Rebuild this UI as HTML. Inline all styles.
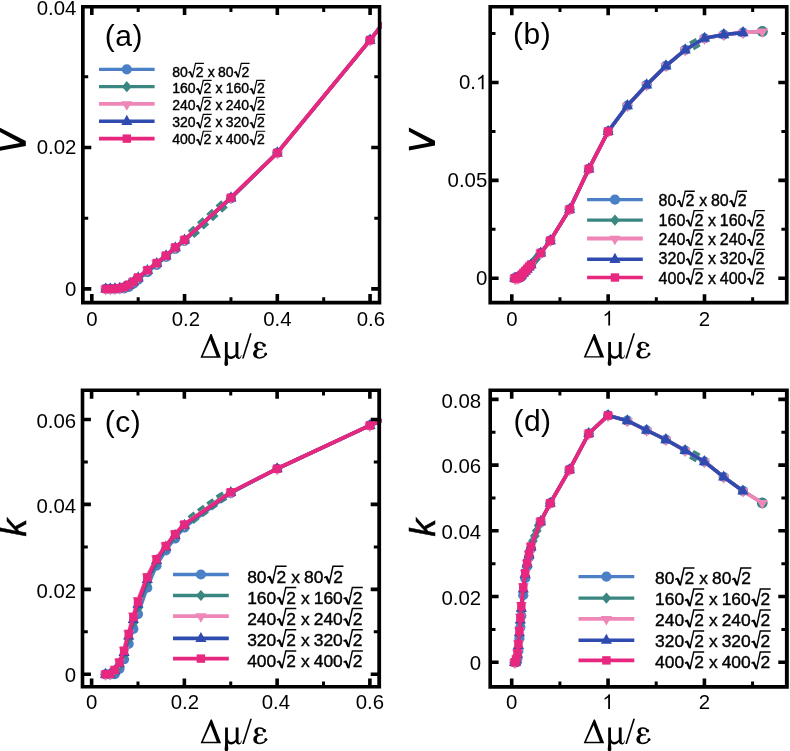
<!DOCTYPE html>
<html>
<head>
<meta charset="utf-8">
<title>Figure</title>
<style>
html, body { margin: 0; padding: 0; background: #fff; }
body { width: 790px; height: 751px; overflow: hidden; }
svg { display: block; will-change: transform; }
text { font-family: "Liberation Sans", sans-serif; fill: #000; }
.tk { font-size: 20.4px; }
.lg { font-family: "Liberation Sans", sans-serif; stroke: #000; stroke-width: 0.4px; }
.pl { font-size: 30px; letter-spacing: 0.5px; }
.ax { font-family: "Liberation Serif", serif; font-size: 35px; }
.yl { font-size: 35.4px; font-style: italic; stroke: #000; stroke-width: 0.5px; }
</style>
</head>
<body>
<svg width="790" height="751" viewBox="0 0 790 751">
<defs>
<clipPath id="clipa"><rect x="80.40" y="4.40" width="301.50" height="300.80"/></clipPath>
<clipPath id="clipb"><rect x="487.80" y="4.50" width="301.40" height="300.70"/></clipPath>
<clipPath id="clipc"><rect x="80.10" y="388.00" width="301.60" height="301.10"/></clipPath>
<clipPath id="clipd"><rect x="487.80" y="388.00" width="301.60" height="301.30"/></clipPath>
<g id="dme" fill="#000" stroke="none">
<path fill-rule="evenodd" d="M0 0L10.05 -23.6H11.25L20.5 0ZM2.35 -1.4H16.2L9.85 -17.9Z"/>
<path d="M24.5 -15.6H27.3V0.5C27.3 2.5 27.7 4.2 27.7 5.9C27.7 7.4 26.9 8.3 25.85 8.3C24.8 8.3 24.0 7.4 24.0 6C24.0 4.4 24.5 2.6 24.5 0.5Z"/>
<path d="M35.1 -15.6H37.95V-2.2C37.95 -0.6 38.5 -0.1 39.2 -0.1C39.9 -0.1 40.4 -1.0 40.6 -2.6L41.2 -2.4C40.8 0.0 39.9 1.2 38.4 1.2C36.9 1.2 35.6 0.4 35.2 -1.4C34.1 0.3 32.4 1.25 30.6 1.25C28.6 1.25 27.0 0.2 26.6 -2L27.3 -5C27.5 -2.5 28.9 -1.3 30.6 -1.3C32.3 -1.3 34.2 -2.2 35.1 -3.6Z"/>
<path d="M41.6 0.9L49.6 -24.4H51.3L43.3 0.9Z"/>
<path d="M59.3 -15.95C55.6 -15.95 53.8 -14.0 53.8 -11.9C53.8 -9.8 55.3 -8.2 58.6 -7.8L58.9 -8.9C57.6 -9.3 57.1 -10.5 57.1 -11.9C57.1 -13.3 57.8 -14.5 59.3 -14.6Z"/>
<path d="M59.0 -8.95C54.6 -8.6 52.7 -6.3 52.7 -3.7C52.7 -0.9 55.2 0.95 59.2 0.95L59.2 -0.5C57.2 -0.6 56.3 -2.0 56.3 -3.8C56.3 -5.7 57.2 -7.2 59.3 -7.6Z"/>
<g fill="none" stroke="#000">
<path stroke-width="1.4" d="M59.0 -15.25C61.0 -15.25 63.0 -14.6 63.6 -12.6"/>
<path stroke-width="1.35" d="M58.6 -8.3H62.4"/>
<path stroke-width="1.5" d="M59.0 0.2C62.3 0.2 64.6 -1.2 65.5 -3.6"/>
</g>
<circle cx="63.7" cy="-12.4" r="1.75"/><circle cx="65.3" cy="-3.6" r="1.5"/>
</g>
</defs>
<rect width="790" height="751" fill="#fff"/>
<g clip-path="url(#clipa)">
<path d="M105.71 288.90L110.35 288.90L114.99 288.90L119.63 288.76L124.27 288.33L128.90 286.78L133.54 283.60L138.18 279.57L147.46 272.21L156.73 264.79L166.01 256.94L175.28 248.81L184.56 240.82L230.94 198.40L277.32 152.80L370.08 40.04L462.84 -78.74" fill="none" stroke="#4b80c6" stroke-width="3.3" stroke-linejoin="round"/>
<circle cx="105.71" cy="288.90" r="5.1" fill="#4b80c6"/>
<circle cx="110.35" cy="288.90" r="5.1" fill="#4b80c6"/>
<circle cx="114.99" cy="288.90" r="5.1" fill="#4b80c6"/>
<circle cx="119.63" cy="288.76" r="5.1" fill="#4b80c6"/>
<circle cx="124.27" cy="288.33" r="5.1" fill="#4b80c6"/>
<circle cx="128.90" cy="286.78" r="5.1" fill="#4b80c6"/>
<circle cx="133.54" cy="283.60" r="5.1" fill="#4b80c6"/>
<circle cx="138.18" cy="279.57" r="5.1" fill="#4b80c6"/>
<circle cx="147.46" cy="272.21" r="5.1" fill="#4b80c6"/>
<circle cx="156.73" cy="264.79" r="5.1" fill="#4b80c6"/>
<circle cx="166.01" cy="256.94" r="5.1" fill="#4b80c6"/>
<circle cx="175.28" cy="248.81" r="5.1" fill="#4b80c6"/>
<circle cx="184.56" cy="240.82" r="5.1" fill="#4b80c6"/>
<circle cx="230.94" cy="198.40" r="5.1" fill="#4b80c6"/>
<circle cx="277.32" cy="152.80" r="5.1" fill="#4b80c6"/>
<circle cx="370.08" cy="40.04" r="5.1" fill="#4b80c6"/>
<circle cx="462.84" cy="-78.74" r="5.1" fill="#4b80c6"/>
<path d="M105.71 288.90L110.35 288.90L114.99 288.79L119.63 288.41L124.27 287.63L128.90 285.72L133.54 282.54L138.18 278.51L147.46 271.15L156.73 263.91L166.01 256.24L175.28 248.11L184.56 240.29L193.84 231.85L203.11 223.40L212.39 214.95L221.66 206.50L230.94 198.05L277.32 152.80L370.08 40.04L462.84 -78.74" fill="none" stroke="#3a8681" stroke-width="3.3" stroke-linejoin="round"/>
<path d="M105.71 283.30L110.61 288.90L105.71 294.50L100.81 288.90Z" fill="#3a8681"/>
<path d="M110.35 283.30L115.25 288.90L110.35 294.50L105.45 288.90Z" fill="#3a8681"/>
<path d="M114.99 283.19L119.89 288.79L114.99 294.39L110.09 288.79Z" fill="#3a8681"/>
<path d="M119.63 282.81L124.53 288.41L119.63 294.01L114.73 288.41Z" fill="#3a8681"/>
<path d="M124.27 282.03L129.17 287.63L124.27 293.23L119.37 287.63Z" fill="#3a8681"/>
<path d="M128.90 280.12L133.80 285.72L128.90 291.32L124.00 285.72Z" fill="#3a8681"/>
<path d="M133.54 276.94L138.44 282.54L133.54 288.14L128.64 282.54Z" fill="#3a8681"/>
<path d="M138.18 272.91L143.08 278.51L138.18 284.11L133.28 278.51Z" fill="#3a8681"/>
<path d="M147.46 265.55L152.36 271.15L147.46 276.75L142.56 271.15Z" fill="#3a8681"/>
<path d="M156.73 258.31L161.63 263.91L156.73 269.51L151.83 263.91Z" fill="#3a8681"/>
<path d="M166.01 250.64L170.91 256.24L166.01 261.84L161.11 256.24Z" fill="#3a8681"/>
<path d="M175.28 242.51L180.18 248.11L175.28 253.71L170.38 248.11Z" fill="#3a8681"/>
<path d="M184.56 234.69L189.46 240.29L184.56 245.89L179.66 240.29Z" fill="#3a8681"/>
<rect x="-3.8" y="-4.9" width="7.6" height="9.8" fill="#3a8681" transform="translate(193.84 231.85) rotate(-42.3)"/>
<rect x="-3.8" y="-4.9" width="7.6" height="9.8" fill="#3a8681" transform="translate(203.11 223.40) rotate(-42.3)"/>
<rect x="-3.8" y="-4.9" width="7.6" height="9.8" fill="#3a8681" transform="translate(212.39 214.95) rotate(-42.3)"/>
<rect x="-3.8" y="-4.9" width="7.6" height="9.8" fill="#3a8681" transform="translate(221.66 206.50) rotate(-42.3)"/>
<path d="M230.94 192.45L235.84 198.05L230.94 203.65L226.04 198.05Z" fill="#3a8681"/>
<path d="M277.32 147.20L282.22 152.80L277.32 158.40L272.42 152.80Z" fill="#3a8681"/>
<path d="M370.08 34.44L374.98 40.04L370.08 45.64L365.18 40.04Z" fill="#3a8681"/>
<path d="M462.84 -84.34L467.74 -78.74L462.84 -73.14L457.94 -78.74Z" fill="#3a8681"/>
<path d="M105.71 288.90L110.35 288.90L114.99 288.66L119.63 287.95L124.27 286.71L128.90 284.34L133.54 281.16L138.18 277.13L147.46 269.78L156.73 262.76L166.01 255.32L175.28 247.19L184.56 239.60L230.94 197.59L277.32 152.80L370.08 40.04L462.84 -78.74" fill="none" stroke="#ee86b7" stroke-width="3.8" stroke-linejoin="round"/>
<path d="M100.11 286.10L111.31 286.10L105.71 295.60Z" fill="#ee86b7"/>
<path d="M104.75 286.10L115.95 286.10L110.35 295.60Z" fill="#ee86b7"/>
<path d="M109.39 285.86L120.59 285.86L114.99 295.36Z" fill="#ee86b7"/>
<path d="M114.03 285.15L125.23 285.15L119.63 294.65Z" fill="#ee86b7"/>
<path d="M118.67 283.91L129.87 283.91L124.27 293.41Z" fill="#ee86b7"/>
<path d="M123.30 281.54L134.50 281.54L128.90 291.04Z" fill="#ee86b7"/>
<path d="M127.94 278.36L139.14 278.36L133.54 287.86Z" fill="#ee86b7"/>
<path d="M132.58 274.33L143.78 274.33L138.18 283.83Z" fill="#ee86b7"/>
<path d="M141.86 266.98L153.06 266.98L147.46 276.48Z" fill="#ee86b7"/>
<path d="M151.13 259.96L162.33 259.96L156.73 269.46Z" fill="#ee86b7"/>
<path d="M160.41 252.52L171.61 252.52L166.01 262.02Z" fill="#ee86b7"/>
<path d="M169.68 244.39L180.88 244.39L175.28 253.89Z" fill="#ee86b7"/>
<path d="M178.96 236.80L190.16 236.80L184.56 246.30Z" fill="#ee86b7"/>
<path d="M225.34 194.79L236.54 194.79L230.94 204.29Z" fill="#ee86b7"/>
<path d="M271.72 150.00L282.92 150.00L277.32 159.50Z" fill="#ee86b7"/>
<path d="M364.48 37.24L375.68 37.24L370.08 46.74Z" fill="#ee86b7"/>
<path d="M457.24 -81.54L468.44 -81.54L462.84 -72.04Z" fill="#ee86b7"/>
<path d="M105.71 288.90L110.35 288.90L114.99 288.73L119.63 288.19L124.27 287.20L128.90 285.08L133.54 281.90L138.18 277.87L147.46 270.52L156.73 263.38L166.01 255.81L175.28 247.68L184.56 239.98L230.94 197.84L277.32 152.80L370.08 40.04L462.84 -78.74" fill="none" stroke="#2f4bb0" stroke-width="3.6" stroke-linejoin="round"/>
<path d="M100.11 292.50L111.31 292.50L105.71 282.40Z" fill="#2f4bb0"/>
<path d="M104.75 292.50L115.95 292.50L110.35 282.40Z" fill="#2f4bb0"/>
<path d="M109.39 292.33L120.59 292.33L114.99 282.23Z" fill="#2f4bb0"/>
<path d="M114.03 291.79L125.23 291.79L119.63 281.69Z" fill="#2f4bb0"/>
<path d="M118.67 290.80L129.87 290.80L124.27 280.70Z" fill="#2f4bb0"/>
<path d="M123.30 288.68L134.50 288.68L128.90 278.58Z" fill="#2f4bb0"/>
<path d="M127.94 285.50L139.14 285.50L133.54 275.40Z" fill="#2f4bb0"/>
<path d="M132.58 281.47L143.78 281.47L138.18 271.37Z" fill="#2f4bb0"/>
<path d="M141.86 274.12L153.06 274.12L147.46 264.02Z" fill="#2f4bb0"/>
<path d="M151.13 266.98L162.33 266.98L156.73 256.88Z" fill="#2f4bb0"/>
<path d="M160.41 259.41L171.61 259.41L166.01 249.31Z" fill="#2f4bb0"/>
<path d="M169.68 251.28L180.88 251.28L175.28 241.18Z" fill="#2f4bb0"/>
<path d="M178.96 243.58L190.16 243.58L184.56 233.48Z" fill="#2f4bb0"/>
<path d="M225.34 201.44L236.54 201.44L230.94 191.34Z" fill="#2f4bb0"/>
<path d="M271.72 156.40L282.92 156.40L277.32 146.30Z" fill="#2f4bb0"/>
<path d="M364.48 43.64L375.68 43.64L370.08 33.54Z" fill="#2f4bb0"/>
<path d="M457.24 -75.14L468.44 -75.14L462.84 -85.24Z" fill="#2f4bb0"/>
<path d="M105.71 288.90L110.35 288.90L114.99 288.69L119.63 288.05L124.27 286.92L128.90 284.66L133.54 281.48L138.18 277.45L147.46 270.09L156.73 263.02L166.01 255.53L175.28 247.40L184.56 239.76L230.94 197.70L277.32 152.80L370.08 40.04L462.84 -78.74" fill="none" stroke="#e8277f" stroke-width="3.7" stroke-linejoin="round"/>
<rect x="101.51" y="284.70" width="8.4" height="8.4" fill="#e8277f"/>
<rect x="106.15" y="284.70" width="8.4" height="8.4" fill="#e8277f"/>
<rect x="110.79" y="284.49" width="8.4" height="8.4" fill="#e8277f"/>
<rect x="115.43" y="283.85" width="8.4" height="8.4" fill="#e8277f"/>
<rect x="120.07" y="282.72" width="8.4" height="8.4" fill="#e8277f"/>
<rect x="124.70" y="280.46" width="8.4" height="8.4" fill="#e8277f"/>
<rect x="129.34" y="277.28" width="8.4" height="8.4" fill="#e8277f"/>
<rect x="133.98" y="273.25" width="8.4" height="8.4" fill="#e8277f"/>
<rect x="143.26" y="265.89" width="8.4" height="8.4" fill="#e8277f"/>
<rect x="152.53" y="258.82" width="8.4" height="8.4" fill="#e8277f"/>
<rect x="161.81" y="251.33" width="8.4" height="8.4" fill="#e8277f"/>
<rect x="171.08" y="243.20" width="8.4" height="8.4" fill="#e8277f"/>
<rect x="180.36" y="235.56" width="8.4" height="8.4" fill="#e8277f"/>
<rect x="226.74" y="193.50" width="8.4" height="8.4" fill="#e8277f"/>
<rect x="273.12" y="148.60" width="8.4" height="8.4" fill="#e8277f"/>
<rect x="365.88" y="35.84" width="8.4" height="8.4" fill="#e8277f"/>
<rect x="458.64" y="-82.94" width="8.4" height="8.4" fill="#e8277f"/>
</g>
<path fill-rule="evenodd" fill="#000" d="M81.0 5.0H381.3V304.6H81.0ZM84.7 8.4V300.7H377.8V8.4Z"/>
<path d="M91.80 301.70V294.10M91.80 7.40V15.00M184.56 301.70V294.10M184.56 7.40V15.00M277.32 301.70V294.10M277.32 7.40V15.00M370.08 301.70V294.10M370.08 7.40V15.00M83.70 288.90H91.30M378.80 288.90H371.20M83.70 147.50H91.30M378.80 147.50H371.20" stroke="#000" stroke-width="3.6" fill="none"/>
<path d="M138.18 301.70V297.20M138.18 7.40V11.90M230.94 301.70V297.20M230.94 7.40V11.90M323.70 301.70V297.20M323.70 7.40V11.90M83.70 218.20H88.20M378.80 218.20H374.30M83.70 76.80H88.20M378.80 76.80H374.30" stroke="#000" stroke-width="3.0" fill="none"/>
<text x="91.80" y="325.5" text-anchor="middle" class="tk">0</text>
<text x="185.96" y="325.5" text-anchor="middle" class="tk">0.2</text>
<text x="277.32" y="325.5" text-anchor="middle" class="tk">0.4</text>
<text x="370.88" y="325.5" text-anchor="middle" class="tk">0.6</text>
<text x="76.4" y="296.20" text-anchor="end" class="tk">0</text>
<text x="76.4" y="154.40" text-anchor="end" class="tk">0.02</text>
<text x="76.4" y="14.50" text-anchor="end" class="tk">0.04</text>
<g clip-path="url(#clipb)">
<path d="M514.69 278.20L515.65 278.20L516.62 278.20L517.58 278.16L518.54 278.04L519.51 277.61L520.47 276.73L521.44 275.62L523.36 273.58L525.29 271.53L527.22 269.35L529.14 267.10L531.07 264.89L540.71 253.15L550.34 240.53L569.61 209.31L588.88 168.80L608.15 131.42L627.42 105.59L646.69 84.85L665.96 65.87L685.23 49.82L704.50 38.27L723.77 34.55L743.04 32.60L762.31 31.42" fill="none" stroke="#4b80c6" stroke-width="3.3" stroke-linejoin="round"/>
<circle cx="514.69" cy="278.20" r="5.1" fill="#4b80c6"/>
<circle cx="515.65" cy="278.20" r="5.1" fill="#4b80c6"/>
<circle cx="516.62" cy="278.20" r="5.1" fill="#4b80c6"/>
<circle cx="517.58" cy="278.16" r="5.1" fill="#4b80c6"/>
<circle cx="518.54" cy="278.04" r="5.1" fill="#4b80c6"/>
<circle cx="519.51" cy="277.61" r="5.1" fill="#4b80c6"/>
<circle cx="520.47" cy="276.73" r="5.1" fill="#4b80c6"/>
<circle cx="521.44" cy="275.62" r="5.1" fill="#4b80c6"/>
<circle cx="523.36" cy="273.58" r="5.1" fill="#4b80c6"/>
<circle cx="525.29" cy="271.53" r="5.1" fill="#4b80c6"/>
<circle cx="527.22" cy="269.35" r="5.1" fill="#4b80c6"/>
<circle cx="529.14" cy="267.10" r="5.1" fill="#4b80c6"/>
<circle cx="531.07" cy="264.89" r="5.1" fill="#4b80c6"/>
<circle cx="540.71" cy="253.15" r="5.1" fill="#4b80c6"/>
<circle cx="550.34" cy="240.53" r="5.1" fill="#4b80c6"/>
<circle cx="569.61" cy="209.31" r="5.1" fill="#4b80c6"/>
<circle cx="588.88" cy="168.80" r="5.1" fill="#4b80c6"/>
<circle cx="608.15" cy="131.42" r="5.1" fill="#4b80c6"/>
<circle cx="627.42" cy="105.59" r="5.1" fill="#4b80c6"/>
<circle cx="646.69" cy="84.85" r="5.1" fill="#4b80c6"/>
<circle cx="665.96" cy="65.87" r="5.1" fill="#4b80c6"/>
<circle cx="685.23" cy="49.82" r="5.1" fill="#4b80c6"/>
<circle cx="704.50" cy="38.27" r="5.1" fill="#4b80c6"/>
<circle cx="723.77" cy="34.55" r="5.1" fill="#4b80c6"/>
<circle cx="743.04" cy="32.60" r="5.1" fill="#4b80c6"/>
<circle cx="762.31" cy="31.42" r="5.1" fill="#4b80c6"/>
<path d="M514.69 278.20L515.65 278.20L516.62 278.17L517.58 278.06L518.54 277.85L519.51 277.32L520.47 276.44L521.44 275.32L523.36 273.29L525.29 271.28L527.22 269.16L529.14 266.91L531.07 264.75L533.00 262.41L534.92 260.07L536.85 257.73L538.78 255.39L540.71 253.05L550.34 240.53L569.61 209.31L588.88 168.80L608.15 131.42L627.42 105.59L646.69 84.85L665.96 65.87L685.23 49.82L694.87 44.04L704.50 38.27L723.77 34.55L743.04 32.60L762.31 31.42" fill="none" stroke="#3a8681" stroke-width="3.3" stroke-linejoin="round"/>
<path d="M514.69 272.60L519.59 278.20L514.69 283.80L509.79 278.20Z" fill="#3a8681"/>
<path d="M515.65 272.60L520.55 278.20L515.65 283.80L510.75 278.20Z" fill="#3a8681"/>
<path d="M516.62 272.57L521.52 278.17L516.62 283.77L511.72 278.17Z" fill="#3a8681"/>
<path d="M517.58 272.46L522.48 278.06L517.58 283.66L512.68 278.06Z" fill="#3a8681"/>
<path d="M518.54 272.25L523.44 277.85L518.54 283.45L513.64 277.85Z" fill="#3a8681"/>
<path d="M519.51 271.72L524.41 277.32L519.51 282.92L514.61 277.32Z" fill="#3a8681"/>
<path d="M520.47 270.84L525.37 276.44L520.47 282.04L515.57 276.44Z" fill="#3a8681"/>
<path d="M521.44 269.72L526.34 275.32L521.44 280.92L516.54 275.32Z" fill="#3a8681"/>
<path d="M523.36 267.69L528.26 273.29L523.36 278.89L518.46 273.29Z" fill="#3a8681"/>
<path d="M525.29 265.68L530.19 271.28L525.29 276.88L520.39 271.28Z" fill="#3a8681"/>
<path d="M527.22 263.56L532.12 269.16L527.22 274.76L522.32 269.16Z" fill="#3a8681"/>
<path d="M529.14 261.31L534.04 266.91L529.14 272.51L524.24 266.91Z" fill="#3a8681"/>
<path d="M531.07 259.15L535.97 264.75L531.07 270.35L526.17 264.75Z" fill="#3a8681"/>
<path d="M533.00 256.81L537.90 262.41L533.00 268.01L528.10 262.41Z" fill="#3a8681"/>
<path d="M534.92 254.47L539.82 260.07L534.92 265.67L530.02 260.07Z" fill="#3a8681"/>
<path d="M536.85 252.13L541.75 257.73L536.85 263.33L531.95 257.73Z" fill="#3a8681"/>
<path d="M538.78 249.79L543.68 255.39L538.78 260.99L533.88 255.39Z" fill="#3a8681"/>
<path d="M540.71 247.45L545.61 253.05L540.71 258.65L535.81 253.05Z" fill="#3a8681"/>
<path d="M550.34 234.93L555.24 240.53L550.34 246.13L545.44 240.53Z" fill="#3a8681"/>
<path d="M569.61 203.71L574.51 209.31L569.61 214.91L564.71 209.31Z" fill="#3a8681"/>
<path d="M588.88 163.20L593.78 168.80L588.88 174.40L583.98 168.80Z" fill="#3a8681"/>
<path d="M608.15 125.82L613.05 131.42L608.15 137.02L603.25 131.42Z" fill="#3a8681"/>
<path d="M627.42 99.99L632.32 105.59L627.42 111.19L622.52 105.59Z" fill="#3a8681"/>
<path d="M646.69 79.25L651.59 84.85L646.69 90.45L641.79 84.85Z" fill="#3a8681"/>
<path d="M665.96 60.27L670.86 65.87L665.96 71.47L661.06 65.87Z" fill="#3a8681"/>
<path d="M685.23 44.22L690.13 49.82L685.23 55.42L680.33 49.82Z" fill="#3a8681"/>
<rect x="-3.8" y="-4.9" width="7.6" height="9.8" fill="#3a8681" transform="translate(694.87 44.04) rotate(-30.9)"/>
<path d="M704.50 32.67L709.40 38.27L704.50 43.87L699.60 38.27Z" fill="#3a8681"/>
<path d="M723.77 28.95L728.67 34.55L723.77 40.15L718.87 34.55Z" fill="#3a8681"/>
<path d="M743.04 27.00L747.94 32.60L743.04 38.20L738.14 32.60Z" fill="#3a8681"/>
<circle cx="762.31" cy="31.42" r="5.4" fill="#3a8681"/>
<path d="M514.69 278.20L515.65 278.20L516.62 278.13L517.58 277.94L518.54 277.59L519.51 276.94L520.47 276.06L521.44 274.94L523.36 272.91L525.29 270.96L527.22 268.90L529.14 266.65L531.07 264.55L540.71 252.93L550.34 240.53L569.61 209.31L588.88 168.80L608.15 131.42L627.42 105.59L646.69 84.85L665.96 65.87L685.23 49.82L704.50 38.27L723.77 34.55L743.04 32.60L762.31 31.42" fill="none" stroke="#ee86b7" stroke-width="3.8" stroke-linejoin="round"/>
<path d="M509.09 275.40L520.29 275.40L514.69 284.90Z" fill="#ee86b7"/>
<path d="M510.05 275.40L521.25 275.40L515.65 284.90Z" fill="#ee86b7"/>
<path d="M511.02 275.33L522.22 275.33L516.62 284.83Z" fill="#ee86b7"/>
<path d="M511.98 275.14L523.18 275.14L517.58 284.64Z" fill="#ee86b7"/>
<path d="M512.94 274.79L524.14 274.79L518.54 284.29Z" fill="#ee86b7"/>
<path d="M513.91 274.14L525.11 274.14L519.51 283.64Z" fill="#ee86b7"/>
<path d="M514.87 273.26L526.07 273.26L520.47 282.76Z" fill="#ee86b7"/>
<path d="M515.84 272.14L527.04 272.14L521.44 281.64Z" fill="#ee86b7"/>
<path d="M517.76 270.11L528.96 270.11L523.36 279.61Z" fill="#ee86b7"/>
<path d="M519.69 268.16L530.89 268.16L525.29 277.66Z" fill="#ee86b7"/>
<path d="M521.62 266.10L532.82 266.10L527.22 275.60Z" fill="#ee86b7"/>
<path d="M523.54 263.85L534.74 263.85L529.14 273.35Z" fill="#ee86b7"/>
<path d="M525.47 261.75L536.67 261.75L531.07 271.25Z" fill="#ee86b7"/>
<path d="M535.11 250.13L546.31 250.13L540.71 259.63Z" fill="#ee86b7"/>
<path d="M544.74 237.73L555.94 237.73L550.34 247.23Z" fill="#ee86b7"/>
<path d="M564.01 206.51L575.21 206.51L569.61 216.01Z" fill="#ee86b7"/>
<path d="M583.28 166.00L594.48 166.00L588.88 175.50Z" fill="#ee86b7"/>
<path d="M602.55 128.62L613.75 128.62L608.15 138.12Z" fill="#ee86b7"/>
<path d="M621.82 102.79L633.02 102.79L627.42 112.29Z" fill="#ee86b7"/>
<path d="M641.09 82.05L652.29 82.05L646.69 91.55Z" fill="#ee86b7"/>
<path d="M660.36 63.07L671.56 63.07L665.96 72.57Z" fill="#ee86b7"/>
<path d="M679.63 47.02L690.83 47.02L685.23 56.52Z" fill="#ee86b7"/>
<path d="M698.90 35.47L710.10 35.47L704.50 44.97Z" fill="#ee86b7"/>
<path d="M718.17 31.75L729.37 31.75L723.77 41.25Z" fill="#ee86b7"/>
<path d="M737.44 29.80L748.64 29.80L743.04 39.30Z" fill="#ee86b7"/>
<path d="M756.71 28.62L767.91 28.62L762.31 38.12Z" fill="#ee86b7"/>
<path d="M514.69 278.20L515.65 278.20L516.62 278.15L517.58 278.00L518.54 277.73L519.51 277.14L520.47 276.26L521.44 275.15L523.36 273.11L525.29 271.14L527.22 269.04L529.14 266.79L531.07 264.66L540.71 252.99L550.34 240.53L569.61 209.31L588.88 168.80L608.15 131.42L627.42 105.59L646.69 84.85L665.96 65.87L685.23 49.82L704.50 38.27L723.77 34.55L743.04 32.60" fill="none" stroke="#2f4bb0" stroke-width="3.6" stroke-linejoin="round"/>
<path d="M509.09 281.80L520.29 281.80L514.69 271.70Z" fill="#2f4bb0"/>
<path d="M510.05 281.80L521.25 281.80L515.65 271.70Z" fill="#2f4bb0"/>
<path d="M511.02 281.75L522.22 281.75L516.62 271.65Z" fill="#2f4bb0"/>
<path d="M511.98 281.60L523.18 281.60L517.58 271.50Z" fill="#2f4bb0"/>
<path d="M512.94 281.33L524.14 281.33L518.54 271.23Z" fill="#2f4bb0"/>
<path d="M513.91 280.74L525.11 280.74L519.51 270.64Z" fill="#2f4bb0"/>
<path d="M514.87 279.86L526.07 279.86L520.47 269.76Z" fill="#2f4bb0"/>
<path d="M515.84 278.75L527.04 278.75L521.44 268.65Z" fill="#2f4bb0"/>
<path d="M517.76 276.71L528.96 276.71L523.36 266.61Z" fill="#2f4bb0"/>
<path d="M519.69 274.74L530.89 274.74L525.29 264.64Z" fill="#2f4bb0"/>
<path d="M521.62 272.64L532.82 272.64L527.22 262.54Z" fill="#2f4bb0"/>
<path d="M523.54 270.39L534.74 270.39L529.14 260.29Z" fill="#2f4bb0"/>
<path d="M525.47 268.26L536.67 268.26L531.07 258.16Z" fill="#2f4bb0"/>
<path d="M535.11 256.59L546.31 256.59L540.71 246.49Z" fill="#2f4bb0"/>
<path d="M544.74 244.13L555.94 244.13L550.34 234.03Z" fill="#2f4bb0"/>
<path d="M564.01 212.91L575.21 212.91L569.61 202.81Z" fill="#2f4bb0"/>
<path d="M583.28 172.40L594.48 172.40L588.88 162.30Z" fill="#2f4bb0"/>
<path d="M602.55 135.02L613.75 135.02L608.15 124.92Z" fill="#2f4bb0"/>
<path d="M621.82 109.19L633.02 109.19L627.42 99.09Z" fill="#2f4bb0"/>
<path d="M641.09 88.45L652.29 88.45L646.69 78.35Z" fill="#2f4bb0"/>
<path d="M660.36 69.47L671.56 69.47L665.96 59.37Z" fill="#2f4bb0"/>
<path d="M679.63 53.42L690.83 53.42L685.23 43.32Z" fill="#2f4bb0"/>
<path d="M698.90 41.87L710.10 41.87L704.50 31.77Z" fill="#2f4bb0"/>
<path d="M718.17 38.15L729.37 38.15L723.77 28.05Z" fill="#2f4bb0"/>
<path d="M737.44 36.20L748.64 36.20L743.04 26.10Z" fill="#2f4bb0"/>
<path d="M514.69 278.20L515.65 278.20L516.62 278.14L517.58 277.97L518.54 277.65L519.51 277.03L520.47 276.15L521.44 275.03L523.36 272.99L525.29 271.04L527.22 268.96L529.14 266.71L531.07 264.60L540.71 252.95L550.34 240.53L569.61 209.31L588.88 168.80L608.15 131.42" fill="none" stroke="#e8277f" stroke-width="3.7" stroke-linejoin="round"/>
<rect x="510.49" y="274.00" width="8.4" height="8.4" fill="#e8277f"/>
<rect x="511.45" y="274.00" width="8.4" height="8.4" fill="#e8277f"/>
<rect x="512.42" y="273.94" width="8.4" height="8.4" fill="#e8277f"/>
<rect x="513.38" y="273.77" width="8.4" height="8.4" fill="#e8277f"/>
<rect x="514.34" y="273.45" width="8.4" height="8.4" fill="#e8277f"/>
<rect x="515.31" y="272.83" width="8.4" height="8.4" fill="#e8277f"/>
<rect x="516.27" y="271.95" width="8.4" height="8.4" fill="#e8277f"/>
<rect x="517.24" y="270.83" width="8.4" height="8.4" fill="#e8277f"/>
<rect x="519.16" y="268.79" width="8.4" height="8.4" fill="#e8277f"/>
<rect x="521.09" y="266.84" width="8.4" height="8.4" fill="#e8277f"/>
<rect x="523.02" y="264.76" width="8.4" height="8.4" fill="#e8277f"/>
<rect x="524.94" y="262.51" width="8.4" height="8.4" fill="#e8277f"/>
<rect x="526.87" y="260.40" width="8.4" height="8.4" fill="#e8277f"/>
<rect x="536.50" y="248.75" width="8.4" height="8.4" fill="#e8277f"/>
<rect x="546.14" y="236.33" width="8.4" height="8.4" fill="#e8277f"/>
<rect x="565.41" y="205.11" width="8.4" height="8.4" fill="#e8277f"/>
<rect x="584.68" y="164.60" width="8.4" height="8.4" fill="#e8277f"/>
<rect x="603.95" y="127.22" width="8.4" height="8.4" fill="#e8277f"/>
</g>
<path fill-rule="evenodd" fill="#000" d="M488.4 5.1H788.6V304.6H488.4ZM492.0 8.6V300.8H784.9V8.6Z"/>
<path d="M511.80 301.80V294.20M511.80 7.60V15.20M608.15 301.80V294.20M608.15 7.60V15.20M704.50 301.80V294.20M704.50 7.60V15.20M491.00 278.20H498.60M785.90 278.20H778.30M491.00 180.35H498.60M785.90 180.35H778.30M491.00 82.50H498.60M785.90 82.50H778.30" stroke="#000" stroke-width="3.6" fill="none"/>
<path d="M559.98 301.80V297.30M559.98 7.60V12.10M656.33 301.80V297.30M656.33 7.60V12.10M752.67 301.80V297.30M752.67 7.60V12.10M491.00 229.27H495.50M785.90 229.27H781.40M491.00 131.42H495.50M785.90 131.42H781.40M491.00 33.57H495.50M785.90 33.57H781.40" stroke="#000" stroke-width="3.0" fill="none"/>
<text x="511.80" y="325.5" text-anchor="middle" class="tk">0</text>
<path transform="translate(602.48 325.50) scale(0.009961 -0.009961)" d="M763 0H583V1147Q518 1085 412.5 1023Q307 961 223 930V1104Q374 1175 487 1276Q600 1377 647 1472H763Z" fill="#000"/>
<text x="704.50" y="325.5" text-anchor="middle" class="tk">2</text>
<text x="487.3" y="285.00" text-anchor="end" class="tk">0</text>
<text x="487.3" y="187.15" text-anchor="end" class="tk">0.05</text>
<path transform="translate(475.96 89.30) scale(0.009961 -0.009961)" d="M763 0H583V1147Q518 1085 412.5 1023Q307 961 223 930V1104Q374 1175 487 1276Q600 1377 647 1472H763Z" fill="#000"/>
<text x="475.96" y="89.30" text-anchor="end" class="tk">0.</text>
<g clip-path="url(#clipc)">
<path d="M105.51 674.30L110.15 674.30L114.79 674.13L119.43 668.86L124.07 659.27L128.70 643.81L133.34 628.90L137.98 614.08L147.26 587.66L156.53 565.58L165.81 550.29L175.08 538.52L184.36 527.52L230.74 493.17L277.12 468.75L369.88 425.43L462.64 387.63" fill="none" stroke="#4b80c6" stroke-width="3.3" stroke-linejoin="round"/>
<circle cx="105.51" cy="674.30" r="5.1" fill="#4b80c6"/>
<circle cx="110.15" cy="674.30" r="5.1" fill="#4b80c6"/>
<circle cx="114.79" cy="674.13" r="5.1" fill="#4b80c6"/>
<circle cx="119.43" cy="668.86" r="5.1" fill="#4b80c6"/>
<circle cx="124.07" cy="659.27" r="5.1" fill="#4b80c6"/>
<circle cx="128.70" cy="643.81" r="5.1" fill="#4b80c6"/>
<circle cx="133.34" cy="628.90" r="5.1" fill="#4b80c6"/>
<circle cx="137.98" cy="614.08" r="5.1" fill="#4b80c6"/>
<circle cx="147.26" cy="587.66" r="5.1" fill="#4b80c6"/>
<circle cx="156.53" cy="565.58" r="5.1" fill="#4b80c6"/>
<circle cx="165.81" cy="550.29" r="5.1" fill="#4b80c6"/>
<circle cx="175.08" cy="538.52" r="5.1" fill="#4b80c6"/>
<circle cx="184.36" cy="527.52" r="5.1" fill="#4b80c6"/>
<circle cx="230.74" cy="493.17" r="5.1" fill="#4b80c6"/>
<circle cx="277.12" cy="468.75" r="5.1" fill="#4b80c6"/>
<circle cx="369.88" cy="425.43" r="5.1" fill="#4b80c6"/>
<circle cx="462.64" cy="387.63" r="5.1" fill="#4b80c6"/>
<path d="M105.51 674.30L110.15 674.09L114.79 672.01L119.43 665.68L124.07 655.02L128.70 638.92L133.34 622.95L137.98 607.92L147.26 582.56L156.53 562.39L165.81 548.16L175.08 536.40L184.36 526.04L193.64 517.68L202.91 511.02L212.19 504.36L221.46 497.70L230.74 492.74L277.12 468.75L369.88 425.43L462.64 387.63" fill="none" stroke="#3a8681" stroke-width="3.3" stroke-linejoin="round"/>
<path d="M105.51 668.70L110.41 674.30L105.51 679.90L100.61 674.30Z" fill="#3a8681"/>
<path d="M110.15 668.49L115.05 674.09L110.15 679.69L105.25 674.09Z" fill="#3a8681"/>
<path d="M114.79 666.41L119.69 672.01L114.79 677.61L109.89 672.01Z" fill="#3a8681"/>
<path d="M119.43 660.08L124.33 665.68L119.43 671.28L114.53 665.68Z" fill="#3a8681"/>
<path d="M124.07 649.42L128.97 655.02L124.07 660.62L119.17 655.02Z" fill="#3a8681"/>
<path d="M128.70 633.32L133.60 638.92L128.70 644.52L123.80 638.92Z" fill="#3a8681"/>
<path d="M133.34 617.35L138.24 622.95L133.34 628.55L128.44 622.95Z" fill="#3a8681"/>
<path d="M137.98 602.32L142.88 607.92L137.98 613.52L133.08 607.92Z" fill="#3a8681"/>
<path d="M147.26 576.96L152.16 582.56L147.26 588.16L142.36 582.56Z" fill="#3a8681"/>
<path d="M156.53 556.79L161.43 562.39L156.53 567.99L151.63 562.39Z" fill="#3a8681"/>
<path d="M165.81 542.56L170.71 548.16L165.81 553.76L160.91 548.16Z" fill="#3a8681"/>
<path d="M175.08 530.80L179.98 536.40L175.08 542.00L170.18 536.40Z" fill="#3a8681"/>
<path d="M184.36 520.44L189.26 526.04L184.36 531.64L179.46 526.04Z" fill="#3a8681"/>
<rect x="-3.8" y="-4.9" width="7.6" height="9.8" fill="#3a8681" transform="translate(193.64 517.68) rotate(-39.0)"/>
<rect x="-3.8" y="-4.9" width="7.6" height="9.8" fill="#3a8681" transform="translate(202.91 511.02) rotate(-35.7)"/>
<rect x="-3.8" y="-4.9" width="7.6" height="9.8" fill="#3a8681" transform="translate(212.19 504.36) rotate(-35.7)"/>
<rect x="-3.8" y="-4.9" width="7.6" height="9.8" fill="#3a8681" transform="translate(221.46 497.70) rotate(-32.1)"/>
<path d="M230.74 487.14L235.64 492.74L230.74 498.34L225.84 492.74Z" fill="#3a8681"/>
<path d="M277.12 463.15L282.02 468.75L277.12 474.35L272.22 468.75Z" fill="#3a8681"/>
<path d="M369.88 419.83L374.78 425.43L369.88 431.03L364.98 425.43Z" fill="#3a8681"/>
<path d="M462.64 382.03L467.54 387.63L462.64 393.23L457.74 387.63Z" fill="#3a8681"/>
<path d="M105.51 674.30L110.15 673.81L114.79 669.25L119.43 661.54L124.07 649.50L128.70 632.57L133.34 615.22L137.98 599.91L147.26 575.94L156.53 558.25L165.81 545.40L175.08 533.64L184.36 524.10L230.74 492.19L277.12 468.75L369.88 425.43L462.64 387.63" fill="none" stroke="#ee86b7" stroke-width="3.8" stroke-linejoin="round"/>
<path d="M99.91 671.50L111.11 671.50L105.51 681.00Z" fill="#ee86b7"/>
<path d="M104.55 671.01L115.75 671.01L110.15 680.51Z" fill="#ee86b7"/>
<path d="M109.19 666.45L120.39 666.45L114.79 675.95Z" fill="#ee86b7"/>
<path d="M113.83 658.74L125.03 658.74L119.43 668.24Z" fill="#ee86b7"/>
<path d="M118.47 646.70L129.67 646.70L124.07 656.20Z" fill="#ee86b7"/>
<path d="M123.10 629.77L134.30 629.77L128.70 639.27Z" fill="#ee86b7"/>
<path d="M127.74 612.42L138.94 612.42L133.34 621.92Z" fill="#ee86b7"/>
<path d="M132.38 597.11L143.58 597.11L137.98 606.61Z" fill="#ee86b7"/>
<path d="M141.66 573.14L152.86 573.14L147.26 582.64Z" fill="#ee86b7"/>
<path d="M150.93 555.45L162.13 555.45L156.53 564.95Z" fill="#ee86b7"/>
<path d="M160.21 542.60L171.41 542.60L165.81 552.10Z" fill="#ee86b7"/>
<path d="M169.48 530.84L180.68 530.84L175.08 540.34Z" fill="#ee86b7"/>
<path d="M178.76 521.30L189.96 521.30L184.36 530.80Z" fill="#ee86b7"/>
<path d="M225.14 489.39L236.34 489.39L230.74 498.89Z" fill="#ee86b7"/>
<path d="M271.52 465.95L282.72 465.95L277.12 475.45Z" fill="#ee86b7"/>
<path d="M364.28 422.63L375.48 422.63L369.88 432.13Z" fill="#ee86b7"/>
<path d="M457.04 384.83L468.24 384.83L462.64 394.33Z" fill="#ee86b7"/>
<path d="M105.51 674.30L110.15 673.96L114.79 670.73L119.43 663.77L124.07 652.47L128.70 635.99L133.34 619.39L137.98 604.22L147.26 579.51L156.53 560.48L165.81 546.89L175.08 535.13L184.36 525.15L230.74 492.49L277.12 468.75L369.88 425.43L462.64 387.63" fill="none" stroke="#2f4bb0" stroke-width="3.6" stroke-linejoin="round"/>
<path d="M99.91 677.90L111.11 677.90L105.51 667.80Z" fill="#2f4bb0"/>
<path d="M104.55 677.56L115.75 677.56L110.15 667.46Z" fill="#2f4bb0"/>
<path d="M109.19 674.33L120.39 674.33L114.79 664.23Z" fill="#2f4bb0"/>
<path d="M113.83 667.37L125.03 667.37L119.43 657.27Z" fill="#2f4bb0"/>
<path d="M118.47 656.07L129.67 656.07L124.07 645.97Z" fill="#2f4bb0"/>
<path d="M123.10 639.59L134.30 639.59L128.70 629.49Z" fill="#2f4bb0"/>
<path d="M127.74 622.99L138.94 622.99L133.34 612.89Z" fill="#2f4bb0"/>
<path d="M132.38 607.82L143.58 607.82L137.98 597.72Z" fill="#2f4bb0"/>
<path d="M141.66 583.11L152.86 583.11L147.26 573.01Z" fill="#2f4bb0"/>
<path d="M150.93 564.08L162.13 564.08L156.53 553.98Z" fill="#2f4bb0"/>
<path d="M160.21 550.49L171.41 550.49L165.81 540.39Z" fill="#2f4bb0"/>
<path d="M169.48 538.73L180.68 538.73L175.08 528.63Z" fill="#2f4bb0"/>
<path d="M178.76 528.75L189.96 528.75L184.36 518.65Z" fill="#2f4bb0"/>
<path d="M225.14 496.09L236.34 496.09L230.74 485.99Z" fill="#2f4bb0"/>
<path d="M271.52 472.35L282.72 472.35L277.12 462.25Z" fill="#2f4bb0"/>
<path d="M364.28 429.03L375.48 429.03L369.88 418.93Z" fill="#2f4bb0"/>
<path d="M457.04 391.23L468.24 391.23L462.64 381.13Z" fill="#2f4bb0"/>
<path d="M105.51 674.30L110.15 673.88L114.79 669.88L119.43 662.49L124.07 650.77L128.70 634.04L133.34 617.01L137.98 601.76L147.26 577.47L156.53 559.21L165.81 546.04L175.08 534.28L184.36 524.55L230.74 492.32L277.12 468.75L369.88 425.43L462.64 387.63" fill="none" stroke="#e8277f" stroke-width="3.7" stroke-linejoin="round"/>
<rect x="101.31" y="670.10" width="8.4" height="8.4" fill="#e8277f"/>
<rect x="105.95" y="669.68" width="8.4" height="8.4" fill="#e8277f"/>
<rect x="110.59" y="665.68" width="8.4" height="8.4" fill="#e8277f"/>
<rect x="115.23" y="658.29" width="8.4" height="8.4" fill="#e8277f"/>
<rect x="119.87" y="646.57" width="8.4" height="8.4" fill="#e8277f"/>
<rect x="124.50" y="629.84" width="8.4" height="8.4" fill="#e8277f"/>
<rect x="129.14" y="612.81" width="8.4" height="8.4" fill="#e8277f"/>
<rect x="133.78" y="597.56" width="8.4" height="8.4" fill="#e8277f"/>
<rect x="143.06" y="573.27" width="8.4" height="8.4" fill="#e8277f"/>
<rect x="152.33" y="555.01" width="8.4" height="8.4" fill="#e8277f"/>
<rect x="161.61" y="541.84" width="8.4" height="8.4" fill="#e8277f"/>
<rect x="170.88" y="530.08" width="8.4" height="8.4" fill="#e8277f"/>
<rect x="180.16" y="520.35" width="8.4" height="8.4" fill="#e8277f"/>
<rect x="226.54" y="488.12" width="8.4" height="8.4" fill="#e8277f"/>
<rect x="272.92" y="464.55" width="8.4" height="8.4" fill="#e8277f"/>
<rect x="365.68" y="421.23" width="8.4" height="8.4" fill="#e8277f"/>
<rect x="458.44" y="383.43" width="8.4" height="8.4" fill="#e8277f"/>
</g>
<path fill-rule="evenodd" fill="#000" d="M80.7 388.6H381.1V688.5H80.7ZM84.3 392.1V685.0H377.3V392.1Z"/>
<path d="M91.60 686.00V678.40M91.60 391.10V398.70M184.36 686.00V678.40M184.36 391.10V398.70M277.12 686.00V678.40M277.12 391.10V398.70M369.88 686.00V678.40M369.88 391.10V398.70M83.30 674.30H90.90M378.30 674.30H370.70M83.30 589.36H90.90M378.30 589.36H370.70M83.30 504.42H90.90M378.30 504.42H370.70M83.30 419.48H90.90M378.30 419.48H370.70" stroke="#000" stroke-width="3.6" fill="none"/>
<path d="M137.98 686.00V681.50M137.98 391.10V395.60M230.74 686.00V681.50M230.74 391.10V395.60M323.50 686.00V681.50M323.50 391.10V395.60M83.30 631.83H87.80M378.30 631.83H373.80M83.30 546.89H87.80M378.30 546.89H373.80M83.30 461.95H87.80M378.30 461.95H373.80" stroke="#000" stroke-width="3.0" fill="none"/>
<text x="91.60" y="709.4" text-anchor="middle" class="tk">0</text>
<text x="184.96" y="709.4" text-anchor="middle" class="tk">0.2</text>
<text x="275.92" y="709.4" text-anchor="middle" class="tk">0.4</text>
<text x="369.88" y="709.4" text-anchor="middle" class="tk">0.6</text>
<text x="76.1" y="681.70" text-anchor="end" class="tk">0</text>
<text x="76.1" y="597.66" text-anchor="end" class="tk">0.02</text>
<text x="76.1" y="512.72" text-anchor="end" class="tk">0.04</text>
<text x="76.1" y="427.78" text-anchor="end" class="tk">0.06</text>
<g clip-path="url(#clipd)">
<path d="M514.59 662.30L515.55 662.30L516.52 662.17L517.48 658.09L518.44 650.66L519.41 638.70L520.37 627.16L521.34 615.69L523.26 595.25L525.19 578.15L527.12 566.32L529.04 557.21L530.97 548.70L540.61 522.11L550.24 503.21L569.51 469.68L588.78 433.52L608.05 415.45L627.32 420.71L646.59 430.24L665.86 439.61L685.13 450.49L704.40 461.60L723.67 476.98L742.94 490.95L762.21 502.85" fill="none" stroke="#4b80c6" stroke-width="3.3" stroke-linejoin="round"/>
<circle cx="514.59" cy="662.30" r="5.1" fill="#4b80c6"/>
<circle cx="515.55" cy="662.30" r="5.1" fill="#4b80c6"/>
<circle cx="516.52" cy="662.17" r="5.1" fill="#4b80c6"/>
<circle cx="517.48" cy="658.09" r="5.1" fill="#4b80c6"/>
<circle cx="518.44" cy="650.66" r="5.1" fill="#4b80c6"/>
<circle cx="519.41" cy="638.70" r="5.1" fill="#4b80c6"/>
<circle cx="520.37" cy="627.16" r="5.1" fill="#4b80c6"/>
<circle cx="521.34" cy="615.69" r="5.1" fill="#4b80c6"/>
<circle cx="523.26" cy="595.25" r="5.1" fill="#4b80c6"/>
<circle cx="525.19" cy="578.15" r="5.1" fill="#4b80c6"/>
<circle cx="527.12" cy="566.32" r="5.1" fill="#4b80c6"/>
<circle cx="529.04" cy="557.21" r="5.1" fill="#4b80c6"/>
<circle cx="530.97" cy="548.70" r="5.1" fill="#4b80c6"/>
<circle cx="540.61" cy="522.11" r="5.1" fill="#4b80c6"/>
<circle cx="550.24" cy="503.21" r="5.1" fill="#4b80c6"/>
<circle cx="569.51" cy="469.68" r="5.1" fill="#4b80c6"/>
<circle cx="588.78" cy="433.52" r="5.1" fill="#4b80c6"/>
<circle cx="608.05" cy="415.45" r="5.1" fill="#4b80c6"/>
<circle cx="627.32" cy="420.71" r="5.1" fill="#4b80c6"/>
<circle cx="646.59" cy="430.24" r="5.1" fill="#4b80c6"/>
<circle cx="665.86" cy="439.61" r="5.1" fill="#4b80c6"/>
<circle cx="685.13" cy="450.49" r="5.1" fill="#4b80c6"/>
<circle cx="704.40" cy="461.60" r="5.1" fill="#4b80c6"/>
<circle cx="723.67" cy="476.98" r="5.1" fill="#4b80c6"/>
<circle cx="742.94" cy="490.95" r="5.1" fill="#4b80c6"/>
<circle cx="762.21" cy="502.85" r="5.1" fill="#4b80c6"/>
<path d="M514.59 662.30L515.55 662.14L516.52 660.53L517.48 655.63L518.44 647.38L519.41 634.92L520.37 622.56L521.34 610.92L523.26 591.30L525.19 575.69L527.12 564.68L529.04 555.57L530.97 547.55L532.90 541.08L534.82 535.93L536.75 530.77L538.68 525.62L540.61 521.78L550.24 503.21L569.51 469.68L588.78 433.52L608.05 415.45L627.32 420.71L646.59 430.24L665.86 439.61L685.13 450.49L694.76 456.04L704.40 461.60L723.67 476.98L742.94 490.95L762.21 502.85" fill="none" stroke="#3a8681" stroke-width="3.3" stroke-linejoin="round"/>
<path d="M514.59 656.70L519.49 662.30L514.59 667.90L509.69 662.30Z" fill="#3a8681"/>
<path d="M515.55 656.54L520.45 662.14L515.55 667.74L510.65 662.14Z" fill="#3a8681"/>
<path d="M516.52 654.93L521.42 660.53L516.52 666.13L511.62 660.53Z" fill="#3a8681"/>
<path d="M517.48 650.03L522.38 655.63L517.48 661.23L512.58 655.63Z" fill="#3a8681"/>
<path d="M518.44 641.78L523.34 647.38L518.44 652.98L513.54 647.38Z" fill="#3a8681"/>
<path d="M519.41 629.32L524.31 634.92L519.41 640.52L514.51 634.92Z" fill="#3a8681"/>
<path d="M520.37 616.96L525.27 622.56L520.37 628.16L515.47 622.56Z" fill="#3a8681"/>
<path d="M521.34 605.32L526.24 610.92L521.34 616.52L516.44 610.92Z" fill="#3a8681"/>
<path d="M523.26 585.70L528.16 591.30L523.26 596.90L518.36 591.30Z" fill="#3a8681"/>
<path d="M525.19 570.09L530.09 575.69L525.19 581.29L520.29 575.69Z" fill="#3a8681"/>
<path d="M527.12 559.08L532.02 564.68L527.12 570.28L522.22 564.68Z" fill="#3a8681"/>
<path d="M529.04 549.97L533.94 555.57L529.04 561.17L524.14 555.57Z" fill="#3a8681"/>
<path d="M530.97 541.95L535.87 547.55L530.97 553.15L526.07 547.55Z" fill="#3a8681"/>
<path d="M532.90 535.48L537.80 541.08L532.90 546.68L528.00 541.08Z" fill="#3a8681"/>
<path d="M534.82 530.33L539.72 535.93L534.82 541.53L529.92 535.93Z" fill="#3a8681"/>
<path d="M536.75 525.17L541.65 530.77L536.75 536.37L531.85 530.77Z" fill="#3a8681"/>
<path d="M538.68 520.02L543.58 525.62L538.68 531.22L533.78 525.62Z" fill="#3a8681"/>
<path d="M540.61 516.18L545.50 521.78L540.61 527.38L535.71 521.78Z" fill="#3a8681"/>
<path d="M550.24 497.61L555.14 503.21L550.24 508.81L545.34 503.21Z" fill="#3a8681"/>
<path d="M569.51 464.08L574.41 469.68L569.51 475.28L564.61 469.68Z" fill="#3a8681"/>
<path d="M588.78 427.92L593.68 433.52L588.78 439.12L583.88 433.52Z" fill="#3a8681"/>
<path d="M608.05 409.85L612.95 415.45L608.05 421.05L603.15 415.45Z" fill="#3a8681"/>
<path d="M627.32 415.11L632.22 420.71L627.32 426.31L622.42 420.71Z" fill="#3a8681"/>
<path d="M646.59 424.64L651.49 430.24L646.59 435.84L641.69 430.24Z" fill="#3a8681"/>
<path d="M665.86 434.01L670.76 439.61L665.86 445.21L660.96 439.61Z" fill="#3a8681"/>
<path d="M685.13 444.89L690.03 450.49L685.13 456.09L680.23 450.49Z" fill="#3a8681"/>
<rect x="-3.8" y="-4.9" width="7.6" height="9.8" fill="#3a8681" transform="translate(694.76 456.04) rotate(30.0)"/>
<path d="M704.40 456.00L709.30 461.60L704.40 467.20L699.50 461.60Z" fill="#3a8681"/>
<path d="M723.67 471.38L728.57 476.98L723.67 482.58L718.77 476.98Z" fill="#3a8681"/>
<path d="M742.94 485.35L747.84 490.95L742.94 496.55L738.04 490.95Z" fill="#3a8681"/>
<circle cx="762.21" cy="502.85" r="5.4" fill="#3a8681"/>
<path d="M514.59 662.30L515.55 661.92L516.52 658.39L517.48 652.42L518.44 643.10L519.41 630.01L520.37 616.58L521.34 604.73L523.26 586.17L525.19 572.48L527.12 562.54L529.04 553.43L530.97 546.06L540.61 521.35L550.24 503.21L569.51 469.68L588.78 433.52L608.05 415.45L627.32 420.71L646.59 430.24L665.86 439.61L685.13 450.49L704.40 461.60L723.67 476.98L742.94 490.95L762.21 502.85" fill="none" stroke="#ee86b7" stroke-width="3.8" stroke-linejoin="round"/>
<path d="M508.99 659.50L520.19 659.50L514.59 669.00Z" fill="#ee86b7"/>
<path d="M509.95 659.12L521.15 659.12L515.55 668.62Z" fill="#ee86b7"/>
<path d="M510.92 655.59L522.12 655.59L516.52 665.09Z" fill="#ee86b7"/>
<path d="M511.88 649.62L523.08 649.62L517.48 659.12Z" fill="#ee86b7"/>
<path d="M512.84 640.30L524.04 640.30L518.44 649.80Z" fill="#ee86b7"/>
<path d="M513.81 627.21L525.01 627.21L519.41 636.71Z" fill="#ee86b7"/>
<path d="M514.77 613.78L525.97 613.78L520.37 623.28Z" fill="#ee86b7"/>
<path d="M515.74 601.93L526.94 601.93L521.34 611.43Z" fill="#ee86b7"/>
<path d="M517.66 583.37L528.86 583.37L523.26 592.87Z" fill="#ee86b7"/>
<path d="M519.59 569.68L530.79 569.68L525.19 579.18Z" fill="#ee86b7"/>
<path d="M521.52 559.74L532.72 559.74L527.12 569.24Z" fill="#ee86b7"/>
<path d="M523.44 550.63L534.64 550.63L529.04 560.13Z" fill="#ee86b7"/>
<path d="M525.37 543.26L536.57 543.26L530.97 552.76Z" fill="#ee86b7"/>
<path d="M535.00 518.55L546.21 518.55L540.61 528.05Z" fill="#ee86b7"/>
<path d="M544.64 500.41L555.84 500.41L550.24 509.91Z" fill="#ee86b7"/>
<path d="M563.91 466.88L575.11 466.88L569.51 476.38Z" fill="#ee86b7"/>
<path d="M583.18 430.72L594.38 430.72L588.78 440.22Z" fill="#ee86b7"/>
<path d="M602.45 412.65L613.65 412.65L608.05 422.15Z" fill="#ee86b7"/>
<path d="M621.72 417.91L632.92 417.91L627.32 427.41Z" fill="#ee86b7"/>
<path d="M640.99 427.44L652.19 427.44L646.59 436.94Z" fill="#ee86b7"/>
<path d="M660.26 436.81L671.46 436.81L665.86 446.31Z" fill="#ee86b7"/>
<path d="M679.53 447.69L690.73 447.69L685.13 457.19Z" fill="#ee86b7"/>
<path d="M698.80 458.80L710.00 458.80L704.40 468.30Z" fill="#ee86b7"/>
<path d="M718.07 474.18L729.27 474.18L723.67 483.68Z" fill="#ee86b7"/>
<path d="M737.34 488.15L748.54 488.15L742.94 497.65Z" fill="#ee86b7"/>
<path d="M756.61 500.05L767.81 500.05L762.21 509.55Z" fill="#ee86b7"/>
<path d="M514.59 662.30L515.55 662.04L516.52 659.54L517.48 654.15L518.44 645.40L519.41 632.65L520.37 619.80L521.34 608.06L523.26 588.93L525.19 574.21L527.12 563.69L529.04 554.59L530.97 546.86L540.61 521.58L550.24 503.21L569.51 469.68L588.78 433.52L608.05 415.45L627.32 420.71L646.59 430.24L665.86 439.61L685.13 450.49L704.40 461.60L723.67 476.98L742.94 490.95" fill="none" stroke="#2f4bb0" stroke-width="3.6" stroke-linejoin="round"/>
<path d="M508.99 665.90L520.19 665.90L514.59 655.80Z" fill="#2f4bb0"/>
<path d="M509.95 665.64L521.15 665.64L515.55 655.54Z" fill="#2f4bb0"/>
<path d="M510.92 663.14L522.12 663.14L516.52 653.04Z" fill="#2f4bb0"/>
<path d="M511.88 657.75L523.08 657.75L517.48 647.65Z" fill="#2f4bb0"/>
<path d="M512.84 649.00L524.04 649.00L518.44 638.90Z" fill="#2f4bb0"/>
<path d="M513.81 636.25L525.01 636.25L519.41 626.15Z" fill="#2f4bb0"/>
<path d="M514.77 623.40L525.97 623.40L520.37 613.30Z" fill="#2f4bb0"/>
<path d="M515.74 611.66L526.94 611.66L521.34 601.56Z" fill="#2f4bb0"/>
<path d="M517.66 592.53L528.86 592.53L523.26 582.43Z" fill="#2f4bb0"/>
<path d="M519.59 577.81L530.79 577.81L525.19 567.71Z" fill="#2f4bb0"/>
<path d="M521.52 567.29L532.72 567.29L527.12 557.19Z" fill="#2f4bb0"/>
<path d="M523.44 558.19L534.64 558.19L529.04 548.09Z" fill="#2f4bb0"/>
<path d="M525.37 550.46L536.57 550.46L530.97 540.36Z" fill="#2f4bb0"/>
<path d="M535.00 525.18L546.21 525.18L540.61 515.08Z" fill="#2f4bb0"/>
<path d="M544.64 506.81L555.84 506.81L550.24 496.71Z" fill="#2f4bb0"/>
<path d="M563.91 473.28L575.11 473.28L569.51 463.18Z" fill="#2f4bb0"/>
<path d="M583.18 437.12L594.38 437.12L588.78 427.02Z" fill="#2f4bb0"/>
<path d="M602.45 419.05L613.65 419.05L608.05 408.95Z" fill="#2f4bb0"/>
<path d="M621.72 424.31L632.92 424.31L627.32 414.21Z" fill="#2f4bb0"/>
<path d="M640.99 433.84L652.19 433.84L646.59 423.74Z" fill="#2f4bb0"/>
<path d="M660.26 443.21L671.46 443.21L665.86 433.11Z" fill="#2f4bb0"/>
<path d="M679.53 454.09L690.73 454.09L685.13 443.99Z" fill="#2f4bb0"/>
<path d="M698.80 465.20L710.00 465.20L704.40 455.10Z" fill="#2f4bb0"/>
<path d="M718.07 480.58L729.27 480.58L723.67 470.48Z" fill="#2f4bb0"/>
<path d="M737.34 494.55L748.54 494.55L742.94 484.45Z" fill="#2f4bb0"/>
<path d="M514.59 662.30L515.55 661.97L516.52 658.88L517.48 653.16L518.44 644.09L519.41 631.14L520.37 617.96L521.34 606.16L523.26 587.36L525.19 573.22L527.12 563.03L529.04 553.93L530.97 546.40L540.61 521.45L550.24 503.21L569.51 469.68L588.78 433.52L608.05 415.45" fill="none" stroke="#e8277f" stroke-width="3.7" stroke-linejoin="round"/>
<rect x="510.39" y="658.10" width="8.4" height="8.4" fill="#e8277f"/>
<rect x="511.35" y="657.77" width="8.4" height="8.4" fill="#e8277f"/>
<rect x="512.32" y="654.68" width="8.4" height="8.4" fill="#e8277f"/>
<rect x="513.28" y="648.96" width="8.4" height="8.4" fill="#e8277f"/>
<rect x="514.24" y="639.89" width="8.4" height="8.4" fill="#e8277f"/>
<rect x="515.21" y="626.94" width="8.4" height="8.4" fill="#e8277f"/>
<rect x="516.17" y="613.76" width="8.4" height="8.4" fill="#e8277f"/>
<rect x="517.13" y="601.96" width="8.4" height="8.4" fill="#e8277f"/>
<rect x="519.06" y="583.16" width="8.4" height="8.4" fill="#e8277f"/>
<rect x="520.99" y="569.02" width="8.4" height="8.4" fill="#e8277f"/>
<rect x="522.92" y="558.83" width="8.4" height="8.4" fill="#e8277f"/>
<rect x="524.84" y="549.73" width="8.4" height="8.4" fill="#e8277f"/>
<rect x="526.77" y="542.20" width="8.4" height="8.4" fill="#e8277f"/>
<rect x="536.40" y="517.25" width="8.4" height="8.4" fill="#e8277f"/>
<rect x="546.04" y="499.01" width="8.4" height="8.4" fill="#e8277f"/>
<rect x="565.31" y="465.48" width="8.4" height="8.4" fill="#e8277f"/>
<rect x="584.58" y="429.32" width="8.4" height="8.4" fill="#e8277f"/>
<rect x="603.85" y="411.25" width="8.4" height="8.4" fill="#e8277f"/>
</g>
<path fill-rule="evenodd" fill="#000" d="M488.4 388.6H788.8V688.7H488.4ZM492.0 392.1V685.0H784.9V392.1Z"/>
<path d="M511.70 686.00V678.40M511.70 391.10V398.70M608.05 686.00V678.40M608.05 391.10V398.70M704.40 686.00V678.40M704.40 391.10V398.70M491.00 662.30H498.60M785.90 662.30H778.30M491.00 596.56H498.60M785.90 596.56H778.30M491.00 530.82H498.60M785.90 530.82H778.30M491.00 465.08H498.60M785.90 465.08H778.30M491.00 399.34H498.60M785.90 399.34H778.30" stroke="#000" stroke-width="3.6" fill="none"/>
<path d="M559.88 686.00V681.50M559.88 391.10V395.60M656.22 686.00V681.50M656.22 391.10V395.60M752.58 686.00V681.50M752.58 391.10V395.60M491.00 629.43H495.50M785.90 629.43H781.40M491.00 563.69H495.50M785.90 563.69H781.40M491.00 497.95H495.50M785.90 497.95H781.40M491.00 432.21H495.50M785.90 432.21H781.40" stroke="#000" stroke-width="3.0" fill="none"/>
<text x="511.70" y="709.0" text-anchor="middle" class="tk">0</text>
<path transform="translate(602.38 709.00) scale(0.009961 -0.009961)" d="M763 0H583V1147Q518 1085 412.5 1023Q307 961 223 930V1104Q374 1175 487 1276Q600 1377 647 1472H763Z" fill="#000"/>
<text x="704.40" y="709.0" text-anchor="middle" class="tk">2</text>
<text x="481.2" y="669.50" text-anchor="end" class="tk">0</text>
<text x="481.2" y="604.76" text-anchor="end" class="tk">0.02</text>
<text x="481.2" y="539.02" text-anchor="end" class="tk">0.04</text>
<text x="481.2" y="473.28" text-anchor="end" class="tk">0.06</text>
<text x="481.2" y="407.54" text-anchor="end" class="tk">0.08</text>
<path d="M99.0 69.30H154.6" stroke="#4b80c6" stroke-width="3.3" fill="none"/>
<circle cx="126.80" cy="69.30" r="5.1" fill="#4b80c6"/>
<text x="172.20" y="76.50" font-size="14" class="lg">80</text>
<path d="M188.39 72.74l1.93 -1.14" fill="none" stroke="#000" stroke-width="1.22"/>
<path d="M189.96 71.51l2.45 5.60" fill="none" stroke="#000" stroke-width="1.84"/>
<path d="M192.41 77.46l3.06 -14.00h8.40" fill="none" stroke="#000" stroke-width="1.18" stroke-linejoin="miter"/>
<text x="195.82" y="76.50" font-size="14" class="lg">2</text>
<text x="207.72" y="76.50" font-size="14" class="lg">x</text>
<text x="217.96" y="76.50" font-size="14" class="lg">80</text>
<path d="M234.15 72.74l1.93 -1.14" fill="none" stroke="#000" stroke-width="1.22"/>
<path d="M235.72 71.51l2.45 5.60" fill="none" stroke="#000" stroke-width="1.84"/>
<path d="M238.17 77.46l3.06 -14.00h8.40" fill="none" stroke="#000" stroke-width="1.18" stroke-linejoin="miter"/>
<text x="241.50" y="76.50" font-size="14" class="lg">2</text>
<path d="M99.0 86.63H154.6" stroke="#3a8681" stroke-width="3.3" fill="none"/>
<path d="M126.80 81.03L131.70 86.63L126.80 92.23L121.90 86.63Z" fill="#3a8681"/>
<text x="172.20" y="93.45" font-size="14" class="lg">160</text>
<path d="M196.17 89.69l1.93 -1.14" fill="none" stroke="#000" stroke-width="1.22"/>
<path d="M197.75 88.46l2.45 5.60" fill="none" stroke="#000" stroke-width="1.84"/>
<path d="M200.20 94.41l3.06 -14.00h8.40" fill="none" stroke="#000" stroke-width="1.18" stroke-linejoin="miter"/>
<text x="203.61" y="93.45" font-size="14" class="lg">2</text>
<text x="215.51" y="93.45" font-size="14" class="lg">x</text>
<text x="225.75" y="93.45" font-size="14" class="lg">160</text>
<path d="M249.72 89.69l1.93 -1.14" fill="none" stroke="#000" stroke-width="1.22"/>
<path d="M251.30 88.46l2.45 5.60" fill="none" stroke="#000" stroke-width="1.84"/>
<path d="M253.75 94.41l3.06 -14.00h8.40" fill="none" stroke="#000" stroke-width="1.18" stroke-linejoin="miter"/>
<text x="257.07" y="93.45" font-size="14" class="lg">2</text>
<path d="M99.0 103.96H154.6" stroke="#ee86b7" stroke-width="3.8" fill="none"/>
<path d="M121.20 101.16L132.40 101.16L126.80 110.66Z" fill="#ee86b7"/>
<text x="172.20" y="110.40" font-size="14" class="lg">240</text>
<path d="M196.17 106.64l1.93 -1.14" fill="none" stroke="#000" stroke-width="1.22"/>
<path d="M197.75 105.41l2.45 5.60" fill="none" stroke="#000" stroke-width="1.84"/>
<path d="M200.20 111.36l3.06 -14.00h8.40" fill="none" stroke="#000" stroke-width="1.18" stroke-linejoin="miter"/>
<text x="203.61" y="110.40" font-size="14" class="lg">2</text>
<text x="215.51" y="110.40" font-size="14" class="lg">x</text>
<text x="225.75" y="110.40" font-size="14" class="lg">240</text>
<path d="M249.72 106.64l1.93 -1.14" fill="none" stroke="#000" stroke-width="1.22"/>
<path d="M251.30 105.41l2.45 5.60" fill="none" stroke="#000" stroke-width="1.84"/>
<path d="M253.75 111.36l3.06 -14.00h8.40" fill="none" stroke="#000" stroke-width="1.18" stroke-linejoin="miter"/>
<text x="257.07" y="110.40" font-size="14" class="lg">2</text>
<path d="M99.0 121.29H154.6" stroke="#2f4bb0" stroke-width="3.6" fill="none"/>
<path d="M121.20 124.89L132.40 124.89L126.80 114.79Z" fill="#2f4bb0"/>
<text x="172.20" y="127.35" font-size="14" class="lg">320</text>
<path d="M196.17 123.59l1.93 -1.14" fill="none" stroke="#000" stroke-width="1.22"/>
<path d="M197.75 122.36l2.45 5.60" fill="none" stroke="#000" stroke-width="1.84"/>
<path d="M200.20 128.31l3.06 -14.00h8.40" fill="none" stroke="#000" stroke-width="1.18" stroke-linejoin="miter"/>
<text x="203.61" y="127.35" font-size="14" class="lg">2</text>
<text x="215.51" y="127.35" font-size="14" class="lg">x</text>
<text x="225.75" y="127.35" font-size="14" class="lg">320</text>
<path d="M249.72 123.59l1.93 -1.14" fill="none" stroke="#000" stroke-width="1.22"/>
<path d="M251.30 122.36l2.45 5.60" fill="none" stroke="#000" stroke-width="1.84"/>
<path d="M253.75 128.31l3.06 -14.00h8.40" fill="none" stroke="#000" stroke-width="1.18" stroke-linejoin="miter"/>
<text x="257.07" y="127.35" font-size="14" class="lg">2</text>
<path d="M99.0 138.62H154.6" stroke="#e8277f" stroke-width="3.7" fill="none"/>
<rect x="122.60" y="134.42" width="8.4" height="8.4" fill="#e8277f"/>
<text x="172.20" y="144.30" font-size="14" class="lg">400</text>
<path d="M196.17 140.54l1.93 -1.14" fill="none" stroke="#000" stroke-width="1.22"/>
<path d="M197.75 139.31l2.45 5.60" fill="none" stroke="#000" stroke-width="1.84"/>
<path d="M200.20 145.26l3.06 -14.00h8.40" fill="none" stroke="#000" stroke-width="1.18" stroke-linejoin="miter"/>
<text x="203.61" y="144.30" font-size="14" class="lg">2</text>
<text x="215.51" y="144.30" font-size="14" class="lg">x</text>
<text x="225.75" y="144.30" font-size="14" class="lg">400</text>
<path d="M249.72 140.54l1.93 -1.14" fill="none" stroke="#000" stroke-width="1.22"/>
<path d="M251.30 139.31l2.45 5.60" fill="none" stroke="#000" stroke-width="1.84"/>
<path d="M253.75 145.26l3.06 -14.00h8.40" fill="none" stroke="#000" stroke-width="1.18" stroke-linejoin="miter"/>
<text x="257.07" y="144.30" font-size="14" class="lg">2</text>
<path d="M587.1 199.70H642.8" stroke="#4b80c6" stroke-width="3.3" fill="none"/>
<circle cx="614.95" cy="199.70" r="5.1" fill="#4b80c6"/>
<text x="658.60" y="206.10" font-size="16" class="lg">80</text>
<path d="M677.10 201.80l2.20 -1.30" fill="none" stroke="#000" stroke-width="1.40"/>
<path d="M678.90 200.40l2.80 6.40" fill="none" stroke="#000" stroke-width="2.10"/>
<path d="M681.70 207.20l3.50 -16.00h9.60" fill="none" stroke="#000" stroke-width="1.35" stroke-linejoin="miter"/>
<text x="685.60" y="206.10" font-size="16" class="lg">2</text>
<text x="699.20" y="206.10" font-size="16" class="lg">x</text>
<text x="710.90" y="206.10" font-size="16" class="lg">80</text>
<path d="M729.40 201.80l2.20 -1.30" fill="none" stroke="#000" stroke-width="1.40"/>
<path d="M731.20 200.40l2.80 6.40" fill="none" stroke="#000" stroke-width="2.10"/>
<path d="M734.00 207.20l3.50 -16.00h9.60" fill="none" stroke="#000" stroke-width="1.35" stroke-linejoin="miter"/>
<text x="737.80" y="206.10" font-size="16" class="lg">2</text>
<path d="M587.1 220.20H642.8" stroke="#3a8681" stroke-width="3.3" fill="none"/>
<path d="M614.95 214.60L619.85 220.20L614.95 225.80L610.05 220.20Z" fill="#3a8681"/>
<text x="658.60" y="225.50" font-size="16" class="lg">160</text>
<path d="M686.00 221.20l2.20 -1.30" fill="none" stroke="#000" stroke-width="1.40"/>
<path d="M687.80 219.80l2.80 6.40" fill="none" stroke="#000" stroke-width="2.10"/>
<path d="M690.60 226.60l3.50 -16.00h9.60" fill="none" stroke="#000" stroke-width="1.35" stroke-linejoin="miter"/>
<text x="694.50" y="225.50" font-size="16" class="lg">2</text>
<text x="708.10" y="225.50" font-size="16" class="lg">x</text>
<text x="719.80" y="225.50" font-size="16" class="lg">160</text>
<path d="M747.20 221.20l2.20 -1.30" fill="none" stroke="#000" stroke-width="1.40"/>
<path d="M749.00 219.80l2.80 6.40" fill="none" stroke="#000" stroke-width="2.10"/>
<path d="M751.80 226.60l3.50 -16.00h9.60" fill="none" stroke="#000" stroke-width="1.35" stroke-linejoin="miter"/>
<text x="755.60" y="225.50" font-size="16" class="lg">2</text>
<path d="M587.1 238.50H642.8" stroke="#ee86b7" stroke-width="3.8" fill="none"/>
<path d="M609.35 235.70L620.55 235.70L614.95 245.20Z" fill="#ee86b7"/>
<text x="658.60" y="244.90" font-size="16" class="lg">240</text>
<path d="M686.00 240.60l2.20 -1.30" fill="none" stroke="#000" stroke-width="1.40"/>
<path d="M687.80 239.20l2.80 6.40" fill="none" stroke="#000" stroke-width="2.10"/>
<path d="M690.60 246.00l3.50 -16.00h9.60" fill="none" stroke="#000" stroke-width="1.35" stroke-linejoin="miter"/>
<text x="694.50" y="244.90" font-size="16" class="lg">2</text>
<text x="708.10" y="244.90" font-size="16" class="lg">x</text>
<text x="719.80" y="244.90" font-size="16" class="lg">240</text>
<path d="M747.20 240.60l2.20 -1.30" fill="none" stroke="#000" stroke-width="1.40"/>
<path d="M749.00 239.20l2.80 6.40" fill="none" stroke="#000" stroke-width="2.10"/>
<path d="M751.80 246.00l3.50 -16.00h9.60" fill="none" stroke="#000" stroke-width="1.35" stroke-linejoin="miter"/>
<text x="755.60" y="244.90" font-size="16" class="lg">2</text>
<path d="M587.1 259.30H642.8" stroke="#2f4bb0" stroke-width="3.6" fill="none"/>
<path d="M609.35 262.90L620.55 262.90L614.95 252.80Z" fill="#2f4bb0"/>
<text x="658.60" y="264.30" font-size="16" class="lg">320</text>
<path d="M686.00 260.00l2.20 -1.30" fill="none" stroke="#000" stroke-width="1.40"/>
<path d="M687.80 258.60l2.80 6.40" fill="none" stroke="#000" stroke-width="2.10"/>
<path d="M690.60 265.40l3.50 -16.00h9.60" fill="none" stroke="#000" stroke-width="1.35" stroke-linejoin="miter"/>
<text x="694.50" y="264.30" font-size="16" class="lg">2</text>
<text x="708.10" y="264.30" font-size="16" class="lg">x</text>
<text x="719.80" y="264.30" font-size="16" class="lg">320</text>
<path d="M747.20 260.00l2.20 -1.30" fill="none" stroke="#000" stroke-width="1.40"/>
<path d="M749.00 258.60l2.80 6.40" fill="none" stroke="#000" stroke-width="2.10"/>
<path d="M751.80 265.40l3.50 -16.00h9.60" fill="none" stroke="#000" stroke-width="1.35" stroke-linejoin="miter"/>
<text x="755.60" y="264.30" font-size="16" class="lg">2</text>
<path d="M587.1 277.50H642.8" stroke="#e8277f" stroke-width="3.7" fill="none"/>
<rect x="610.75" y="273.30" width="8.4" height="8.4" fill="#e8277f"/>
<text x="658.60" y="283.70" font-size="16" class="lg">400</text>
<path d="M686.00 279.40l2.20 -1.30" fill="none" stroke="#000" stroke-width="1.40"/>
<path d="M687.80 278.00l2.80 6.40" fill="none" stroke="#000" stroke-width="2.10"/>
<path d="M690.60 284.80l3.50 -16.00h9.60" fill="none" stroke="#000" stroke-width="1.35" stroke-linejoin="miter"/>
<text x="694.50" y="283.70" font-size="16" class="lg">2</text>
<text x="708.10" y="283.70" font-size="16" class="lg">x</text>
<text x="719.80" y="283.70" font-size="16" class="lg">400</text>
<path d="M747.20 279.40l2.20 -1.30" fill="none" stroke="#000" stroke-width="1.40"/>
<path d="M749.00 278.00l2.80 6.40" fill="none" stroke="#000" stroke-width="2.10"/>
<path d="M751.80 284.80l3.50 -16.00h9.60" fill="none" stroke="#000" stroke-width="1.35" stroke-linejoin="miter"/>
<text x="755.60" y="283.70" font-size="16" class="lg">2</text>
<path d="M173.0 574.50H228.8" stroke="#4b80c6" stroke-width="3.3" fill="none"/>
<circle cx="200.90" cy="574.50" r="5.1" fill="#4b80c6"/>
<text x="247.20" y="582.50" font-size="17.4" class="lg">80</text>
<path d="M267.32 577.82l2.39 -1.41" fill="none" stroke="#000" stroke-width="1.52"/>
<path d="M269.28 576.30l3.04 6.96" fill="none" stroke="#000" stroke-width="2.28"/>
<path d="M272.32 583.70l3.81 -17.40h10.44" fill="none" stroke="#000" stroke-width="1.47" stroke-linejoin="miter"/>
<text x="276.56" y="582.50" font-size="17.4" class="lg">2</text>
<text x="291.35" y="582.50" font-size="17.4" class="lg">x</text>
<text x="304.08" y="582.50" font-size="17.4" class="lg">80</text>
<path d="M324.19 577.82l2.39 -1.41" fill="none" stroke="#000" stroke-width="1.52"/>
<path d="M326.15 576.30l3.04 6.96" fill="none" stroke="#000" stroke-width="2.28"/>
<path d="M329.20 583.70l3.81 -17.40h10.44" fill="none" stroke="#000" stroke-width="1.47" stroke-linejoin="miter"/>
<text x="333.33" y="582.50" font-size="17.4" class="lg">2</text>
<path d="M173.0 595.50H228.8" stroke="#3a8681" stroke-width="3.3" fill="none"/>
<path d="M200.90 589.90L205.80 595.50L200.90 601.10L196.00 595.50Z" fill="#3a8681"/>
<text x="247.20" y="603.65" font-size="17.4" class="lg">160</text>
<path d="M277.00 598.97l2.39 -1.41" fill="none" stroke="#000" stroke-width="1.52"/>
<path d="M278.95 597.45l3.04 6.96" fill="none" stroke="#000" stroke-width="2.28"/>
<path d="M282.00 604.85l3.81 -17.40h10.44" fill="none" stroke="#000" stroke-width="1.47" stroke-linejoin="miter"/>
<text x="286.24" y="603.65" font-size="17.4" class="lg">2</text>
<text x="301.03" y="603.65" font-size="17.4" class="lg">x</text>
<text x="313.75" y="603.65" font-size="17.4" class="lg">160</text>
<path d="M343.55 598.97l2.39 -1.41" fill="none" stroke="#000" stroke-width="1.52"/>
<path d="M345.51 597.45l3.04 6.96" fill="none" stroke="#000" stroke-width="2.28"/>
<path d="M348.56 604.85l3.81 -17.40h10.44" fill="none" stroke="#000" stroke-width="1.47" stroke-linejoin="miter"/>
<text x="352.69" y="603.65" font-size="17.4" class="lg">2</text>
<path d="M173.0 616.10H228.8" stroke="#ee86b7" stroke-width="3.8" fill="none"/>
<path d="M195.30 613.30L206.50 613.30L200.90 622.80Z" fill="#ee86b7"/>
<text x="247.20" y="624.80" font-size="17.4" class="lg">240</text>
<path d="M277.00 620.12l2.39 -1.41" fill="none" stroke="#000" stroke-width="1.52"/>
<path d="M278.95 618.60l3.04 6.96" fill="none" stroke="#000" stroke-width="2.28"/>
<path d="M282.00 626.00l3.81 -17.40h10.44" fill="none" stroke="#000" stroke-width="1.47" stroke-linejoin="miter"/>
<text x="286.24" y="624.80" font-size="17.4" class="lg">2</text>
<text x="301.03" y="624.80" font-size="17.4" class="lg">x</text>
<text x="313.75" y="624.80" font-size="17.4" class="lg">240</text>
<path d="M343.55 620.12l2.39 -1.41" fill="none" stroke="#000" stroke-width="1.52"/>
<path d="M345.51 618.60l3.04 6.96" fill="none" stroke="#000" stroke-width="2.28"/>
<path d="M348.56 626.00l3.81 -17.40h10.44" fill="none" stroke="#000" stroke-width="1.47" stroke-linejoin="miter"/>
<text x="352.69" y="624.80" font-size="17.4" class="lg">2</text>
<path d="M173.0 638.40H228.8" stroke="#2f4bb0" stroke-width="3.6" fill="none"/>
<path d="M195.30 642.00L206.50 642.00L200.90 631.90Z" fill="#2f4bb0"/>
<text x="247.20" y="645.95" font-size="17.4" class="lg">320</text>
<path d="M277.00 641.27l2.39 -1.41" fill="none" stroke="#000" stroke-width="1.52"/>
<path d="M278.95 639.75l3.04 6.96" fill="none" stroke="#000" stroke-width="2.28"/>
<path d="M282.00 647.15l3.81 -17.40h10.44" fill="none" stroke="#000" stroke-width="1.47" stroke-linejoin="miter"/>
<text x="286.24" y="645.95" font-size="17.4" class="lg">2</text>
<text x="301.03" y="645.95" font-size="17.4" class="lg">x</text>
<text x="313.75" y="645.95" font-size="17.4" class="lg">320</text>
<path d="M343.55 641.27l2.39 -1.41" fill="none" stroke="#000" stroke-width="1.52"/>
<path d="M345.51 639.75l3.04 6.96" fill="none" stroke="#000" stroke-width="2.28"/>
<path d="M348.56 647.15l3.81 -17.40h10.44" fill="none" stroke="#000" stroke-width="1.47" stroke-linejoin="miter"/>
<text x="352.69" y="645.95" font-size="17.4" class="lg">2</text>
<path d="M173.0 658.60H228.8" stroke="#e8277f" stroke-width="3.7" fill="none"/>
<rect x="196.70" y="654.40" width="8.4" height="8.4" fill="#e8277f"/>
<text x="247.20" y="667.10" font-size="17.4" class="lg">400</text>
<path d="M277.00 662.42l2.39 -1.41" fill="none" stroke="#000" stroke-width="1.52"/>
<path d="M278.95 660.90l3.04 6.96" fill="none" stroke="#000" stroke-width="2.28"/>
<path d="M282.00 668.30l3.81 -17.40h10.44" fill="none" stroke="#000" stroke-width="1.47" stroke-linejoin="miter"/>
<text x="286.24" y="667.10" font-size="17.4" class="lg">2</text>
<text x="301.03" y="667.10" font-size="17.4" class="lg">x</text>
<text x="313.75" y="667.10" font-size="17.4" class="lg">400</text>
<path d="M343.55 662.42l2.39 -1.41" fill="none" stroke="#000" stroke-width="1.52"/>
<path d="M345.51 660.90l3.04 6.96" fill="none" stroke="#000" stroke-width="2.28"/>
<path d="M348.56 668.30l3.81 -17.40h10.44" fill="none" stroke="#000" stroke-width="1.47" stroke-linejoin="miter"/>
<text x="352.69" y="667.10" font-size="17.4" class="lg">2</text>
<path d="M578.5 576.60H634.3" stroke="#4b80c6" stroke-width="3.3" fill="none"/>
<circle cx="606.40" cy="576.60" r="5.1" fill="#4b80c6"/>
<text x="655.10" y="584.30" font-size="17.4" class="lg">80</text>
<path d="M675.22 579.62l2.39 -1.41" fill="none" stroke="#000" stroke-width="1.52"/>
<path d="M677.18 578.10l3.04 6.96" fill="none" stroke="#000" stroke-width="2.28"/>
<path d="M680.22 585.50l3.81 -17.40h10.44" fill="none" stroke="#000" stroke-width="1.47" stroke-linejoin="miter"/>
<text x="684.46" y="584.30" font-size="17.4" class="lg">2</text>
<text x="699.25" y="584.30" font-size="17.4" class="lg">x</text>
<text x="711.98" y="584.30" font-size="17.4" class="lg">80</text>
<path d="M732.10 579.62l2.39 -1.41" fill="none" stroke="#000" stroke-width="1.52"/>
<path d="M734.05 578.10l3.04 6.96" fill="none" stroke="#000" stroke-width="2.28"/>
<path d="M737.10 585.50l3.81 -17.40h10.44" fill="none" stroke="#000" stroke-width="1.47" stroke-linejoin="miter"/>
<text x="741.23" y="584.30" font-size="17.4" class="lg">2</text>
<path d="M578.5 598.10H634.3" stroke="#3a8681" stroke-width="3.3" fill="none"/>
<path d="M606.40 592.50L611.30 598.10L606.40 603.70L601.50 598.10Z" fill="#3a8681"/>
<text x="655.10" y="605.25" font-size="17.4" class="lg">160</text>
<path d="M684.90 600.57l2.39 -1.41" fill="none" stroke="#000" stroke-width="1.52"/>
<path d="M686.86 599.05l3.04 6.96" fill="none" stroke="#000" stroke-width="2.28"/>
<path d="M689.90 606.45l3.81 -17.40h10.44" fill="none" stroke="#000" stroke-width="1.47" stroke-linejoin="miter"/>
<text x="694.14" y="605.25" font-size="17.4" class="lg">2</text>
<text x="708.93" y="605.25" font-size="17.4" class="lg">x</text>
<text x="721.65" y="605.25" font-size="17.4" class="lg">160</text>
<path d="M751.45 600.57l2.39 -1.41" fill="none" stroke="#000" stroke-width="1.52"/>
<path d="M753.41 599.05l3.04 6.96" fill="none" stroke="#000" stroke-width="2.28"/>
<path d="M756.46 606.45l3.81 -17.40h10.44" fill="none" stroke="#000" stroke-width="1.47" stroke-linejoin="miter"/>
<text x="760.59" y="605.25" font-size="17.4" class="lg">2</text>
<path d="M578.5 618.90H634.3" stroke="#ee86b7" stroke-width="3.8" fill="none"/>
<path d="M600.80 616.10L612.00 616.10L606.40 625.60Z" fill="#ee86b7"/>
<text x="655.10" y="626.20" font-size="17.4" class="lg">240</text>
<path d="M684.90 621.52l2.39 -1.41" fill="none" stroke="#000" stroke-width="1.52"/>
<path d="M686.86 620.00l3.04 6.96" fill="none" stroke="#000" stroke-width="2.28"/>
<path d="M689.90 627.40l3.81 -17.40h10.44" fill="none" stroke="#000" stroke-width="1.47" stroke-linejoin="miter"/>
<text x="694.14" y="626.20" font-size="17.4" class="lg">2</text>
<text x="708.93" y="626.20" font-size="17.4" class="lg">x</text>
<text x="721.65" y="626.20" font-size="17.4" class="lg">240</text>
<path d="M751.45 621.52l2.39 -1.41" fill="none" stroke="#000" stroke-width="1.52"/>
<path d="M753.41 620.00l3.04 6.96" fill="none" stroke="#000" stroke-width="2.28"/>
<path d="M756.46 627.40l3.81 -17.40h10.44" fill="none" stroke="#000" stroke-width="1.47" stroke-linejoin="miter"/>
<text x="760.59" y="626.20" font-size="17.4" class="lg">2</text>
<path d="M578.5 640.20H634.3" stroke="#2f4bb0" stroke-width="3.6" fill="none"/>
<path d="M600.80 643.80L612.00 643.80L606.40 633.70Z" fill="#2f4bb0"/>
<text x="655.10" y="647.15" font-size="17.4" class="lg">320</text>
<path d="M684.90 642.47l2.39 -1.41" fill="none" stroke="#000" stroke-width="1.52"/>
<path d="M686.86 640.95l3.04 6.96" fill="none" stroke="#000" stroke-width="2.28"/>
<path d="M689.90 648.35l3.81 -17.40h10.44" fill="none" stroke="#000" stroke-width="1.47" stroke-linejoin="miter"/>
<text x="694.14" y="647.15" font-size="17.4" class="lg">2</text>
<text x="708.93" y="647.15" font-size="17.4" class="lg">x</text>
<text x="721.65" y="647.15" font-size="17.4" class="lg">320</text>
<path d="M751.45 642.47l2.39 -1.41" fill="none" stroke="#000" stroke-width="1.52"/>
<path d="M753.41 640.95l3.04 6.96" fill="none" stroke="#000" stroke-width="2.28"/>
<path d="M756.46 648.35l3.81 -17.40h10.44" fill="none" stroke="#000" stroke-width="1.47" stroke-linejoin="miter"/>
<text x="760.59" y="647.15" font-size="17.4" class="lg">2</text>
<path d="M578.5 660.40H634.3" stroke="#e8277f" stroke-width="3.7" fill="none"/>
<rect x="602.20" y="656.20" width="8.4" height="8.4" fill="#e8277f"/>
<text x="655.10" y="668.10" font-size="17.4" class="lg">400</text>
<path d="M684.90 663.42l2.39 -1.41" fill="none" stroke="#000" stroke-width="1.52"/>
<path d="M686.86 661.90l3.04 6.96" fill="none" stroke="#000" stroke-width="2.28"/>
<path d="M689.90 669.30l3.81 -17.40h10.44" fill="none" stroke="#000" stroke-width="1.47" stroke-linejoin="miter"/>
<text x="694.14" y="668.10" font-size="17.4" class="lg">2</text>
<text x="708.93" y="668.10" font-size="17.4" class="lg">x</text>
<text x="721.65" y="668.10" font-size="17.4" class="lg">400</text>
<path d="M751.45 663.42l2.39 -1.41" fill="none" stroke="#000" stroke-width="1.52"/>
<path d="M753.41 661.90l3.04 6.96" fill="none" stroke="#000" stroke-width="2.28"/>
<path d="M756.46 669.30l3.81 -17.40h10.44" fill="none" stroke="#000" stroke-width="1.47" stroke-linejoin="miter"/>
<text x="760.59" y="668.10" font-size="17.4" class="lg">2</text>
<text x="104.8" y="46.0" class="pl">(a)</text>
<text x="513.0" y="43.6" class="pl">(b)</text>
<text x="104.8" y="432.3" class="pl">(c)</text>
<text x="513.4" y="430.6" class="pl">(d)</text>
<use href="#dme" x="200.4" y="357.7"/>
<use href="#dme" x="583.7" y="357.6"/>
<use href="#dme" x="200.6" y="743.2"/>
<use href="#dme" x="583.7" y="743.2"/>
<path d="M-0.30 127.70L25.80 141.10L25.80 145.90L-0.30 150.80L-0.30 146.80L20.10 143.00L-0.30 131.90Z" fill="#000"/>
<path d="M408.90 127.40L435.00 140.80L435.00 145.60L408.90 150.50L408.90 146.50L429.30 142.70L408.90 131.60Z" fill="#000"/>
<text transform="translate(25.9 536.5) rotate(-90)" class="yl">k</text>
<text transform="translate(434.7 536.5) rotate(-90)" class="yl">k</text>
</svg>
</body>
</html>
